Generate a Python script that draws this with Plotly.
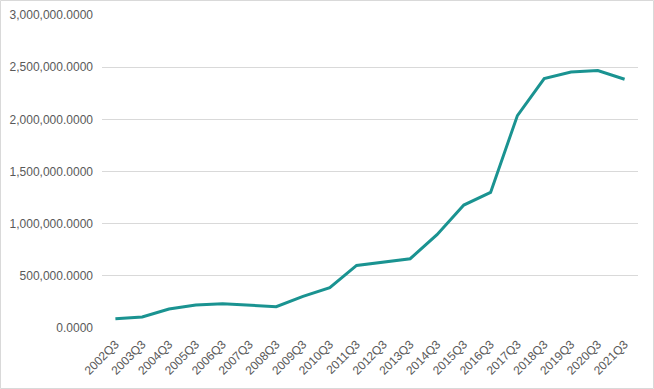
import plotly.graph_objects as go

quarters = ["2002Q3", "2003Q3", "2004Q3", "2005Q3", "2006Q3", "2007Q3", "2008Q3",
            "2009Q3", "2010Q3", "2011Q3", "2012Q3", "2013Q3", "2014Q3", "2015Q3",
            "2016Q3", "2017Q3", "2018Q3", "2019Q3", "2020Q3", "2021Q3"]
values = [89000, 105000, 182000, 220000, 233000, 220000, 204000,
          303000, 386000, 600000, 635000, 664000, 894000, 1178000,
          1299000, 2036000, 2391000, 2454000, 2467000, 2384000]
y_ticks = [0, 500000, 1000000, 1500000, 2000000, 2500000, 3000000]

W, H = 654, 389
ml, mr, mt, mb = 102, 16, 15, 61
pw, ph = W - ml - mr, H - mt - mb

fig = go.Figure()
fig.add_trace(go.Scatter(
    x=quarters, y=values, mode="lines",
    line=dict(color="#1a9391", width=3),
    hoverinfo="x+y",
))

fig.update_layout(
    width=W, height=H,
    margin=dict(l=ml, r=mr, t=mt, b=mb, autoexpand=False),
    paper_bgcolor="white", plot_bgcolor="white",
    showlegend=False,
    font=dict(family="Liberation Sans, Arial, sans-serif", color="#595959", size=12),
    xaxis=dict(
        type="category", range=[-0.5, len(quarters) - 0.5],
        tickangle=-45, tickfont=dict(size=12, color="#595959"),
        showgrid=False, showline=False, ticks="", zeroline=False,
        automargin=False, ticklabelstandoff=6,
    ),
    yaxis=dict(
        range=[0, 3000000], tickvals=y_ticks, tickformat=",.4f",
        showgrid=True, gridcolor="#d9d9d9", gridwidth=1,
        zeroline=False, showline=False, ticks="",
        tickfont=dict(size=12, color="#595959"), ticklabelstandoff=8,
        automargin=False,
    ),
    shapes=[dict(
        type="rect", xref="paper", yref="paper",
        x0=(0.5 - ml) / pw, x1=(W - ml - 0.5) / pw,
        y0=-(mb - 0.5) / ph, y1=(ph + mt - 0.5) / ph,
        line=dict(color="#d9d9d9", width=1), fillcolor="rgba(0,0,0,0)",
        layer="below",
    )],
)

fig.write_html(
    "out.html",
    config={"displayModeBar": False},
    post_script="document.body.style.margin='0';document.body.style.padding='0';",
)
